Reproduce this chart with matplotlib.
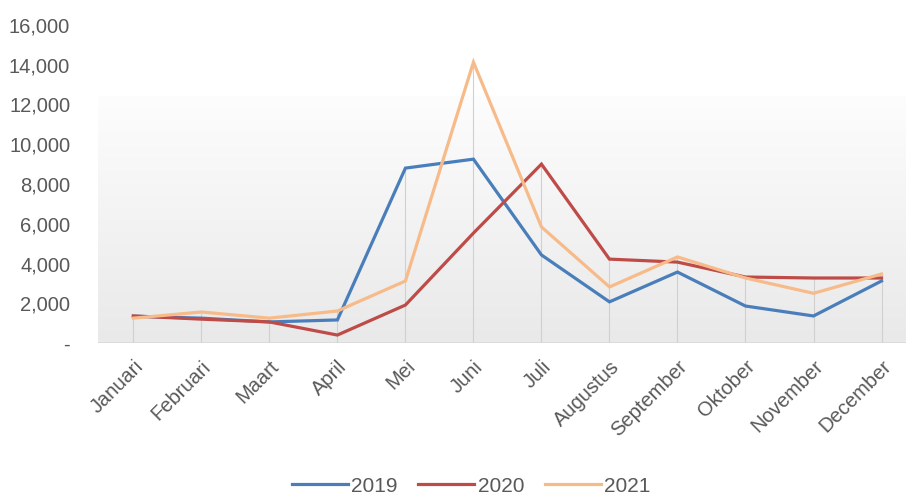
import numpy as np
import matplotlib
matplotlib.use("Agg")
import matplotlib.pyplot as plt
from matplotlib.colors import LinearSegmentedColormap

months = ["Januari", "Februari", "Maart", "April", "Mei", "Juni", "Juli",
          "Augustus", "September", "Oktober", "November", "December"]
y2019 = [1350, 1250, 1060, 1160, 8800, 9250, 4430, 2070, 3570, 1860, 1360, 3120]
y2020 = [1360, 1200, 1060, 400, 1910, 5530, 9000, 4220, 4070, 3320, 3270, 3270]
y2021 = [1250, 1560, 1250, 1610, 3120, 14130, 5840, 2820, 4330, 3270, 2500, 3470]
series_names = ["2019", "2020", "2021"]
colors = ["#4a7ebb", "#be4b48", "#f7bb8a"]
yticks = [0, 2000, 4000, 6000, 8000, 10000, 12000, 14000, 16000]
ytick_labels = ["-", "2,000", "4,000", "6,000", "8,000", "10,000", "12,000", "14,000", "16,000"]

plt.rcParams['font.family'] = ['Liberation Sans', 'DejaVu Sans']
tc = "#595959"

fig = plt.figure(figsize=(9.06, 4.95), dpi=100)
ax = fig.add_axes([98/906, (495-343)/495, (906-98)/906, (343-25)/495])
x = np.arange(len(months))
ax.set_xlim(-0.52, 11.36)
ax.set_ylim(0, 16000)

# gradient plot area
cmap = LinearSegmentedColormap.from_list("g", ["#e9e9e9", "#fdfdfd"])
grad = np.linspace(0, 1, 256).reshape(-1, 1)
ax.imshow(grad, extent=[-0.52, 11.36, 0, 12400], origin="lower", cmap=cmap,
          aspect="auto", zorder=0)
ax.axhline(0, color="#d9d9d9", lw=1.2, zorder=1)

# drop lines
tops = np.maximum.reduce([np.array(y2019), np.array(y2020), np.array(y2021)])
ax.vlines(x, 0, tops, color="#d0d0d0", lw=0.8, zorder=1)

for vals, name, c in zip([y2019, y2020, y2021], series_names, colors):
    ax.plot(x, vals, color=c, lw=2.3, label=name, zorder=3, solid_joinstyle="miter")

for s in ax.spines.values():
    s.set_visible(False)
ax.set_yticks(yticks)
ax.set_yticklabels(ytick_labels, color=tc, fontsize=14.5)
ax.set_xticks(x)
ax.set_xticklabels(months, rotation=45, ha="right", rotation_mode="anchor", color=tc, fontsize=14.5)
ax.tick_params(length=0)
ax.tick_params(axis="y", pad=20)
ax.tick_params(axis="x", pad=10)

leg = fig.legend(loc="center", bbox_to_anchor=(0.52, 0.018), ncol=3, frameon=False,
                 fontsize=15, handlelength=2.7, columnspacing=1.0, handletextpad=0.15)
for t in leg.get_texts():
    t.set_color(tc)

fig.savefig("out.png", dpi=100)
